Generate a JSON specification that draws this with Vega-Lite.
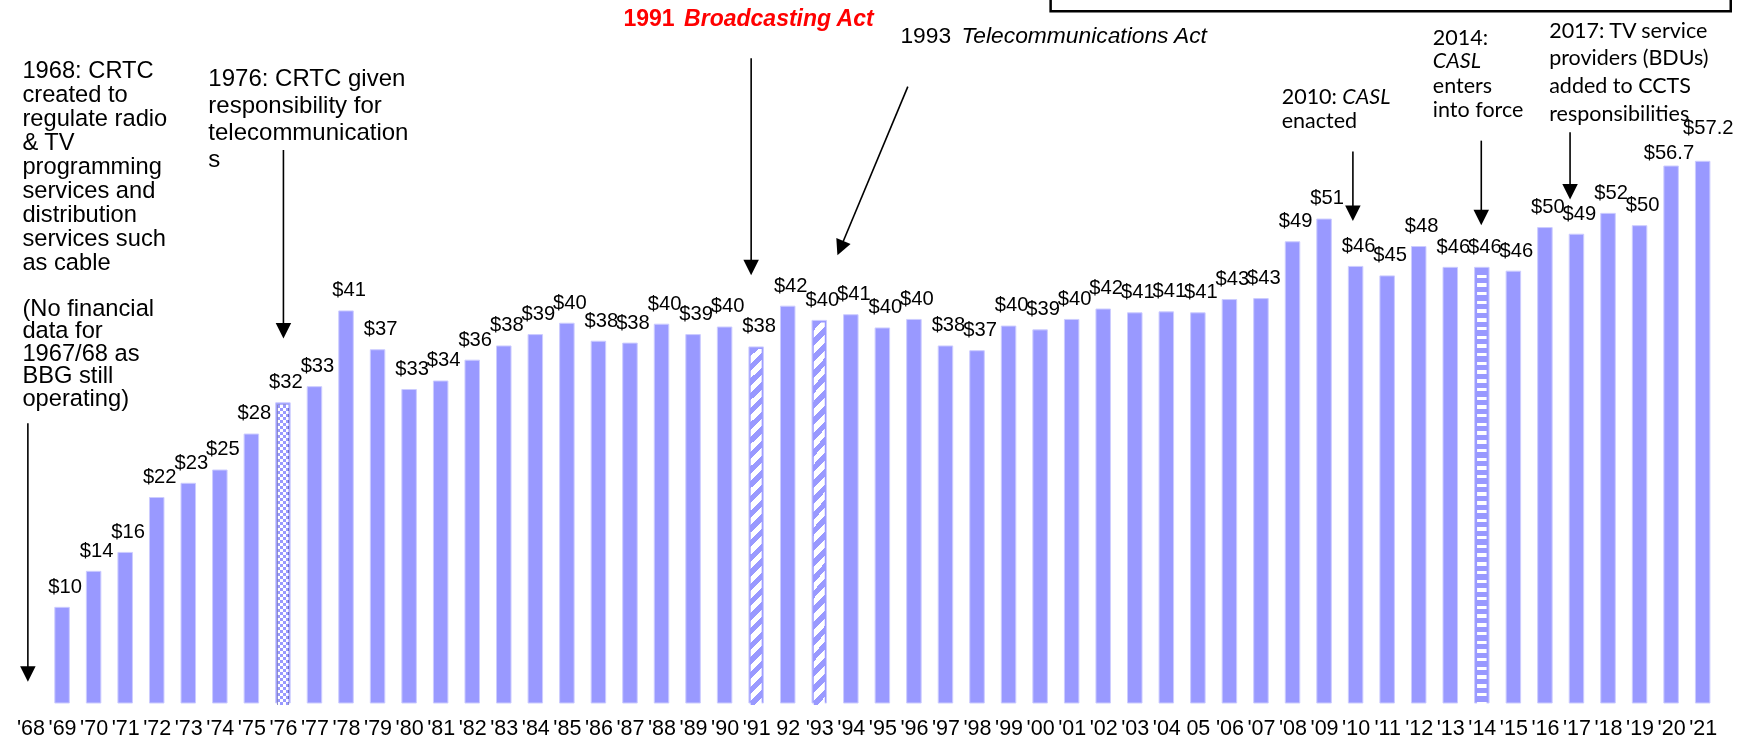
{
"$schema": "https://vega.github.io/schema/vega-lite/v6.json",
"width": 1756, "height": 703,
"autosize": {"type": "none"},
"padding": {"left": 0, "right": 0, "top": 0, "bottom": 37},
"background": "white",
"config": {"view": {"stroke": null}},
"datasets": {
"bars": [
{"x":1969,"y":10.1,"label":"$10","pat":"n"},
{"x":1970,"y":13.9,"label":"$14","pat":"n"},
{"x":1971,"y":15.9,"label":"$16","pat":"n"},
{"x":1972,"y":21.7,"label":"$22","pat":"n"},
{"x":1973,"y":23.2,"label":"$23","pat":"n"},
{"x":1974,"y":24.6,"label":"$25","pat":"n"},
{"x":1975,"y":28.4,"label":"$28","pat":"n"},
{"x":1976,"y":31.7,"label":"$32","pat":"chk"},
{"x":1977,"y":33.4,"label":"$33","pat":"n"},
{"x":1978,"y":41.4,"label":"$41","pat":"n"},
{"x":1979,"y":37.3,"label":"$37","pat":"n"},
{"x":1980,"y":33.1,"label":"$33","pat":"n"},
{"x":1981,"y":34.0,"label":"$34","pat":"n"},
{"x":1982,"y":36.2,"label":"$36","pat":"n"},
{"x":1983,"y":37.7,"label":"$38","pat":"n"},
{"x":1984,"y":38.9,"label":"$39","pat":"n"},
{"x":1985,"y":40.1,"label":"$40","pat":"n"},
{"x":1986,"y":38.2,"label":"$38","pat":"n"},
{"x":1987,"y":38.0,"label":"$38","pat":"n"},
{"x":1988,"y":40.0,"label":"$40","pat":"n"},
{"x":1989,"y":38.9,"label":"$39","pat":"n"},
{"x":1990,"y":39.7,"label":"$40","pat":"n"},
{"x":1991,"y":37.6,"label":"$38","pat":"dg"},
{"x":1992,"y":41.9,"label":"$42","pat":"n"},
{"x":1993,"y":40.4,"label":"$40","pat":"dg"},
{"x":1994,"y":41.0,"label":"$41","pat":"n"},
{"x":1995,"y":39.6,"label":"$40","pat":"n"},
{"x":1996,"y":40.5,"label":"$40","pat":"n"},
{"x":1997,"y":37.7,"label":"$38","pat":"n"},
{"x":1998,"y":37.2,"label":"$37","pat":"n"},
{"x":1999,"y":39.8,"label":"$40","pat":"n"},
{"x":2000,"y":39.4,"label":"$39","pat":"n"},
{"x":2001,"y":40.5,"label":"$40","pat":"n"},
{"x":2002,"y":41.6,"label":"$42","pat":"n"},
{"x":2003,"y":41.2,"label":"$41","pat":"n"},
{"x":2004,"y":41.3,"label":"$41","pat":"n"},
{"x":2005,"y":41.2,"label":"$41","pat":"n"},
{"x":2006,"y":42.6,"label":"$43","pat":"n"},
{"x":2007,"y":42.7,"label":"$43","pat":"n"},
{"x":2008,"y":48.7,"label":"$49","pat":"n"},
{"x":2009,"y":51.1,"label":"$51","pat":"n"},
{"x":2010,"y":46.1,"label":"$46","pat":"n"},
{"x":2011,"y":45.1,"label":"$45","pat":"n"},
{"x":2012,"y":48.2,"label":"$48","pat":"n"},
{"x":2013,"y":46.0,"label":"$46","pat":"n"},
{"x":2014,"y":46.0,"label":"$46","pat":"hs"},
{"x":2015,"y":45.6,"label":"$46","pat":"n"},
{"x":2016,"y":50.2,"label":"$50","pat":"n"},
{"x":2017,"y":49.5,"label":"$49","pat":"n"},
{"x":2018,"y":51.7,"label":"$52","pat":"n"},
{"x":2019,"y":50.4,"label":"$50","pat":"n"},
{"x":2020,"y":56.7,"label":"$56.7","pat":"n"},
{"x":2021,"y":57.2,"label":"$57.2","pat":"n"}
],
"notes": [
{"x":1967.743,"y":65.97,"kind":"n1","text":"1968: CRTC\ncreated to\nregulate radio\n& TV\nprogramming\nservices and\ndistribution\nservices such\nas cable"},
{"x":1967.743,"y":40.87,"kind":"n1b","text":"(No financial\ndata for\n1967/68 as\nBBG still\noperating)"},
{"x":1973.636,"y":65.15,"kind":"n2","text":"1976: CRTC given\nresponsibility for\ntelecommunication\ns"},
{"x":1986.794,"y":71.49,"kind":"red","text":"1991"},
{"x":1988.716,"y":71.49,"kind":"redi","text":"Broadcasting Act"},
{"x":1995.571,"y":69.66,"kind":"act","text":"1993"},
{"x":1997.509,"y":69.66,"kind":"acti","text":"Telecommunications  Act"},
{"x":2007.657,"y":63.22,"kind":"cal","text":"2010:"},
{"x":2009.58,"y":63.22,"kind":"cali","text":"CASL"},
{"x":2007.657,"y":60.69,"kind":"cal","text":"enacted"},
{"x":2012.448,"y":69.48,"kind":"cal","text":"2014:"},
{"x":2012.448,"y":67.02,"kind":"cali","text":"CASL"},
{"x":2012.448,"y":64.45,"kind":"cal","text":"enters\ninto force"},
{"x":2016.135,"y":70.25,"kind":"cal2","text":"2017: TV service\nproviders (BDUs)\nadded to CCTS\nresponsibilities"}
],
"arrows": [
{"x":1967.916,"y":3.06,"x2":1967.916,"y2":29.54,"kind":"v"},
{"x":1976.016,"y":39.31,"x2":1976.016,"y2":58.39,"kind":"v"},
{"x":1990.841,"y":45.99,"x2":1990.841,"y2":68.08,"kind":"v"},
{"x":1993.671,"y":48.04,"x2":1995.807,"y2":65.08,"kind":"d"},
{"x":2009.914,"y":51.71,"x2":2009.914,"y2":58.22,"kind":"v"},
{"x":2013.983,"y":51.27,"x2":2013.983,"y2":59.38,"kind":"v"},
{"x":2016.797,"y":53.99,"x2":2016.797,"y2":60.26,"kind":"v"}
],
"box": [{"x":2000.333,"x2":2021.89,"y":73.04,"y2":76.5}]
},
"encoding": {
"x": {"field": "x", "type": "quantitative",
 "scale": {"domain": [1967.191, 2022.532], "nice": false, "zero": false},
 "axis": {"title": null, "domain": false, "ticks": false, "tickSize": 0, "grid": false,
  "values": [1968,1969,1970,1971,1972,1973,1974,1975,1976,1977,1978,1979,1980,1981,1982,1983,1984,1985,1986,1987,1988,1989,1990,1991,1992,1993,1994,1995,1996,1997,1998,1999,2000,2001,2002,2003,2004,2005,2006,2007,2008,2009,2010,2011,2012,2013,2014,2015,2016,2017,2018,2019,2020,2021],
  "format": "d",
  "labelExpr": "datum.value == 1992 ? '92' : datum.value == 2005 ? '05' : \"'\" + substring(datum.label, 2)",
  "labelFont": "Liberation Sans", "labelFontSize": 21.5, "labelColor": "#000",
  "labelBaseline": "alphabetic", "labelPadding": 31, "labelOverlap": false, "labelFlush": false, "labelBound": false, "labelAngle": 0}},
"y": {"field": "y", "type": "quantitative",
 "scale": {"domain": [0, 74.23], "nice": false, "zero": true}, "axis": null}
},
"layer": [
{"data": {"name": "box"},
 "mark": {"type": "rect", "fillOpacity": 0, "stroke": "#000", "strokeWidth": 2.5},
 "encoding": {"x2": {"field": "x2"}, "y2": {"field": "y2"}}},
{"data": {"name": "bars"},
 "mark": {"type": "bar", "size": 14.5, "fill": "#9999ff", "stroke": "#ccccff", "strokeWidth": 1}},
{"data": {"name": "bars"}, "transform": [{"filter": "datum.pat == 'hs'"}],
 "mark": {"type": "bar", "size": 9.5, "yOffset": 2, "y2Offset": -2, "strokeWidth": 0,
  "fill": {"gradient": "linear", "x1": 0, "y1": 0, "x2": 0, "y2": 1, "stops": [
{"offset":0,"color":"#99f"},{"offset":0.012,"color":"#99f"},{"offset":0.012,"color":"#fff"},{"offset":0.02,"color":"#fff"},
{"offset":0.02,"color":"#99f"},{"offset":0.032,"color":"#99f"},{"offset":0.032,"color":"#fff"},{"offset":0.04,"color":"#fff"},
{"offset":0.04,"color":"#99f"},{"offset":0.052,"color":"#99f"},{"offset":0.052,"color":"#fff"},{"offset":0.06,"color":"#fff"},
{"offset":0.06,"color":"#99f"},{"offset":0.072,"color":"#99f"},{"offset":0.072,"color":"#fff"},{"offset":0.08,"color":"#fff"},
{"offset":0.08,"color":"#99f"},{"offset":0.092,"color":"#99f"},{"offset":0.092,"color":"#fff"},{"offset":0.1,"color":"#fff"},
{"offset":0.1,"color":"#99f"},{"offset":0.112,"color":"#99f"},{"offset":0.112,"color":"#fff"},{"offset":0.12,"color":"#fff"},
{"offset":0.12,"color":"#99f"},{"offset":0.132,"color":"#99f"},{"offset":0.132,"color":"#fff"},{"offset":0.14,"color":"#fff"},
{"offset":0.14,"color":"#99f"},{"offset":0.152,"color":"#99f"},{"offset":0.152,"color":"#fff"},{"offset":0.16,"color":"#fff"},
{"offset":0.16,"color":"#99f"},{"offset":0.172,"color":"#99f"},{"offset":0.172,"color":"#fff"},{"offset":0.18,"color":"#fff"},
{"offset":0.18,"color":"#99f"},{"offset":0.192,"color":"#99f"},{"offset":0.192,"color":"#fff"},{"offset":0.2,"color":"#fff"},
{"offset":0.2,"color":"#99f"},{"offset":0.212,"color":"#99f"},{"offset":0.212,"color":"#fff"},{"offset":0.22,"color":"#fff"},
{"offset":0.22,"color":"#99f"},{"offset":0.232,"color":"#99f"},{"offset":0.232,"color":"#fff"},{"offset":0.24,"color":"#fff"},
{"offset":0.24,"color":"#99f"},{"offset":0.252,"color":"#99f"},{"offset":0.252,"color":"#fff"},{"offset":0.26,"color":"#fff"},
{"offset":0.26,"color":"#99f"},{"offset":0.272,"color":"#99f"},{"offset":0.272,"color":"#fff"},{"offset":0.28,"color":"#fff"},
{"offset":0.28,"color":"#99f"},{"offset":0.292,"color":"#99f"},{"offset":0.292,"color":"#fff"},{"offset":0.3,"color":"#fff"},
{"offset":0.3,"color":"#99f"},{"offset":0.312,"color":"#99f"},{"offset":0.312,"color":"#fff"},{"offset":0.32,"color":"#fff"},
{"offset":0.32,"color":"#99f"},{"offset":0.332,"color":"#99f"},{"offset":0.332,"color":"#fff"},{"offset":0.34,"color":"#fff"},
{"offset":0.34,"color":"#99f"},{"offset":0.352,"color":"#99f"},{"offset":0.352,"color":"#fff"},{"offset":0.36,"color":"#fff"},
{"offset":0.36,"color":"#99f"},{"offset":0.372,"color":"#99f"},{"offset":0.372,"color":"#fff"},{"offset":0.38,"color":"#fff"},
{"offset":0.38,"color":"#99f"},{"offset":0.392,"color":"#99f"},{"offset":0.392,"color":"#fff"},{"offset":0.4,"color":"#fff"},
{"offset":0.4,"color":"#99f"},{"offset":0.412,"color":"#99f"},{"offset":0.412,"color":"#fff"},{"offset":0.42,"color":"#fff"},
{"offset":0.42,"color":"#99f"},{"offset":0.432,"color":"#99f"},{"offset":0.432,"color":"#fff"},{"offset":0.44,"color":"#fff"},
{"offset":0.44,"color":"#99f"},{"offset":0.452,"color":"#99f"},{"offset":0.452,"color":"#fff"},{"offset":0.46,"color":"#fff"},
{"offset":0.46,"color":"#99f"},{"offset":0.472,"color":"#99f"},{"offset":0.472,"color":"#fff"},{"offset":0.48,"color":"#fff"},
{"offset":0.48,"color":"#99f"},{"offset":0.492,"color":"#99f"},{"offset":0.492,"color":"#fff"},{"offset":0.5,"color":"#fff"},
{"offset":0.5,"color":"#99f"},{"offset":0.512,"color":"#99f"},{"offset":0.512,"color":"#fff"},{"offset":0.52,"color":"#fff"},
{"offset":0.52,"color":"#99f"},{"offset":0.532,"color":"#99f"},{"offset":0.532,"color":"#fff"},{"offset":0.54,"color":"#fff"},
{"offset":0.54,"color":"#99f"},{"offset":0.552,"color":"#99f"},{"offset":0.552,"color":"#fff"},{"offset":0.56,"color":"#fff"},
{"offset":0.56,"color":"#99f"},{"offset":0.572,"color":"#99f"},{"offset":0.572,"color":"#fff"},{"offset":0.58,"color":"#fff"},
{"offset":0.58,"color":"#99f"},{"offset":0.592,"color":"#99f"},{"offset":0.592,"color":"#fff"},{"offset":0.6,"color":"#fff"},
{"offset":0.6,"color":"#99f"},{"offset":0.612,"color":"#99f"},{"offset":0.612,"color":"#fff"},{"offset":0.62,"color":"#fff"},
{"offset":0.62,"color":"#99f"},{"offset":0.632,"color":"#99f"},{"offset":0.632,"color":"#fff"},{"offset":0.64,"color":"#fff"},
{"offset":0.64,"color":"#99f"},{"offset":0.652,"color":"#99f"},{"offset":0.652,"color":"#fff"},{"offset":0.66,"color":"#fff"},
{"offset":0.66,"color":"#99f"},{"offset":0.672,"color":"#99f"},{"offset":0.672,"color":"#fff"},{"offset":0.68,"color":"#fff"},
{"offset":0.68,"color":"#99f"},{"offset":0.692,"color":"#99f"},{"offset":0.692,"color":"#fff"},{"offset":0.7,"color":"#fff"},
{"offset":0.7,"color":"#99f"},{"offset":0.712,"color":"#99f"},{"offset":0.712,"color":"#fff"},{"offset":0.72,"color":"#fff"},
{"offset":0.72,"color":"#99f"},{"offset":0.732,"color":"#99f"},{"offset":0.732,"color":"#fff"},{"offset":0.74,"color":"#fff"},
{"offset":0.74,"color":"#99f"},{"offset":0.752,"color":"#99f"},{"offset":0.752,"color":"#fff"},{"offset":0.76,"color":"#fff"},
{"offset":0.76,"color":"#99f"},{"offset":0.772,"color":"#99f"},{"offset":0.772,"color":"#fff"},{"offset":0.78,"color":"#fff"},
{"offset":0.78,"color":"#99f"},{"offset":0.792,"color":"#99f"},{"offset":0.792,"color":"#fff"},{"offset":0.8,"color":"#fff"},
{"offset":0.8,"color":"#99f"},{"offset":0.812,"color":"#99f"},{"offset":0.812,"color":"#fff"},{"offset":0.82,"color":"#fff"},
{"offset":0.82,"color":"#99f"},{"offset":0.832,"color":"#99f"},{"offset":0.832,"color":"#fff"},{"offset":0.84,"color":"#fff"},
{"offset":0.84,"color":"#99f"},{"offset":0.852,"color":"#99f"},{"offset":0.852,"color":"#fff"},{"offset":0.86,"color":"#fff"},
{"offset":0.86,"color":"#99f"},{"offset":0.872,"color":"#99f"},{"offset":0.872,"color":"#fff"},{"offset":0.88,"color":"#fff"},
{"offset":0.88,"color":"#99f"},{"offset":0.892,"color":"#99f"},{"offset":0.892,"color":"#fff"},{"offset":0.9,"color":"#fff"},
{"offset":0.9,"color":"#99f"},{"offset":0.912,"color":"#99f"},{"offset":0.912,"color":"#fff"},{"offset":0.92,"color":"#fff"},
{"offset":0.92,"color":"#99f"},{"offset":0.932,"color":"#99f"},{"offset":0.932,"color":"#fff"},{"offset":0.94,"color":"#fff"},
{"offset":0.94,"color":"#99f"},{"offset":0.952,"color":"#99f"},{"offset":0.952,"color":"#fff"},{"offset":0.96,"color":"#fff"},
{"offset":0.96,"color":"#99f"},{"offset":0.972,"color":"#99f"},{"offset":0.972,"color":"#fff"},{"offset":0.98,"color":"#fff"},
{"offset":0.98,"color":"#99f"},{"offset":0.992,"color":"#99f"},{"offset":0.992,"color":"#fff"},{"offset":1,"color":"#fff"}
]}}},
{"data": {"name": "bars"}, "transform": [{"filter": "datum.pat == 'dg'"}],
 "mark": {"type": "bar", "size": 11, "yOffset": 2, "y2Offset": -2, "strokeWidth": 0,
  "fill": {"gradient": "linear", "x1": 0, "y1": 0, "x2": 0.031, "y2": 1.0292, "stops": [
{"offset":0,"color":"#99f"},
{"offset":0.02,"color":"#99f"},{"offset":0.02,"color":"#fff"},
{"offset":0.04,"color":"#fff"},{"offset":0.04,"color":"#99f"},
{"offset":0.06,"color":"#99f"},{"offset":0.06,"color":"#fff"},
{"offset":0.08,"color":"#fff"},{"offset":0.08,"color":"#99f"},
{"offset":0.1,"color":"#99f"},{"offset":0.1,"color":"#fff"},
{"offset":0.12,"color":"#fff"},{"offset":0.12,"color":"#99f"},
{"offset":0.14,"color":"#99f"},{"offset":0.14,"color":"#fff"},
{"offset":0.16,"color":"#fff"},{"offset":0.16,"color":"#99f"},
{"offset":0.18,"color":"#99f"},{"offset":0.18,"color":"#fff"},
{"offset":0.2,"color":"#fff"},{"offset":0.2,"color":"#99f"},
{"offset":0.22,"color":"#99f"},{"offset":0.22,"color":"#fff"},
{"offset":0.24,"color":"#fff"},{"offset":0.24,"color":"#99f"},
{"offset":0.26,"color":"#99f"},{"offset":0.26,"color":"#fff"},
{"offset":0.28,"color":"#fff"},{"offset":0.28,"color":"#99f"},
{"offset":0.3,"color":"#99f"},{"offset":0.3,"color":"#fff"},
{"offset":0.32,"color":"#fff"},{"offset":0.32,"color":"#99f"},
{"offset":0.34,"color":"#99f"},{"offset":0.34,"color":"#fff"},
{"offset":0.36,"color":"#fff"},{"offset":0.36,"color":"#99f"},
{"offset":0.38,"color":"#99f"},{"offset":0.38,"color":"#fff"},
{"offset":0.4,"color":"#fff"},{"offset":0.4,"color":"#99f"},
{"offset":0.42,"color":"#99f"},{"offset":0.42,"color":"#fff"},
{"offset":0.44,"color":"#fff"},{"offset":0.44,"color":"#99f"},
{"offset":0.46,"color":"#99f"},{"offset":0.46,"color":"#fff"},
{"offset":0.48,"color":"#fff"},{"offset":0.48,"color":"#99f"},
{"offset":0.5,"color":"#99f"},{"offset":0.5,"color":"#fff"},
{"offset":0.52,"color":"#fff"},{"offset":0.52,"color":"#99f"},
{"offset":0.54,"color":"#99f"},{"offset":0.54,"color":"#fff"},
{"offset":0.56,"color":"#fff"},{"offset":0.56,"color":"#99f"},
{"offset":0.58,"color":"#99f"},{"offset":0.58,"color":"#fff"},
{"offset":0.6,"color":"#fff"},{"offset":0.6,"color":"#99f"},
{"offset":0.62,"color":"#99f"},{"offset":0.62,"color":"#fff"},
{"offset":0.64,"color":"#fff"},{"offset":0.64,"color":"#99f"},
{"offset":0.66,"color":"#99f"},{"offset":0.66,"color":"#fff"},
{"offset":0.68,"color":"#fff"},{"offset":0.68,"color":"#99f"},
{"offset":0.7,"color":"#99f"},{"offset":0.7,"color":"#fff"},
{"offset":0.72,"color":"#fff"},{"offset":0.72,"color":"#99f"},
{"offset":0.74,"color":"#99f"},{"offset":0.74,"color":"#fff"},
{"offset":0.76,"color":"#fff"},{"offset":0.76,"color":"#99f"},
{"offset":0.78,"color":"#99f"},{"offset":0.78,"color":"#fff"},
{"offset":0.8,"color":"#fff"},{"offset":0.8,"color":"#99f"},
{"offset":0.82,"color":"#99f"},{"offset":0.82,"color":"#fff"},
{"offset":0.84,"color":"#fff"},{"offset":0.84,"color":"#99f"},
{"offset":0.86,"color":"#99f"},{"offset":0.86,"color":"#fff"},
{"offset":0.88,"color":"#fff"},{"offset":0.88,"color":"#99f"},
{"offset":0.9,"color":"#99f"},{"offset":0.9,"color":"#fff"},
{"offset":0.92,"color":"#fff"},{"offset":0.92,"color":"#99f"},
{"offset":0.94,"color":"#99f"},{"offset":0.94,"color":"#fff"},
{"offset":0.96,"color":"#fff"},{"offset":0.96,"color":"#99f"},
{"offset":0.98,"color":"#99f"},{"offset":0.98,"color":"#fff"},
{"offset":1,"color":"#fff"}
]}}},
{"data": {"name": "bars"}, "transform": [{"filter": "datum.pat == 'chk'"}],
 "mark": {"type": "bar", "size": 11, "yOffset": 2, "y2Offset": -2, "strokeWidth": 0,
  "fill": {"gradient": "linear", "x1": 0, "y1": 0, "x2": 0, "y2": 1, "stops": [
{"offset":0,"color":"#fff"},{"offset":0.01,"color":"#fff"},{"offset":0.01,"color":"#000"},{"offset":0.02,"color":"#000"},
{"offset":0.02,"color":"#fff"},{"offset":0.03,"color":"#fff"},{"offset":0.03,"color":"#000"},{"offset":0.04,"color":"#000"},
{"offset":0.04,"color":"#fff"},{"offset":0.05,"color":"#fff"},{"offset":0.05,"color":"#000"},{"offset":0.06,"color":"#000"},
{"offset":0.06,"color":"#fff"},{"offset":0.07,"color":"#fff"},{"offset":0.07,"color":"#000"},{"offset":0.08,"color":"#000"},
{"offset":0.08,"color":"#fff"},{"offset":0.09,"color":"#fff"},{"offset":0.09,"color":"#000"},{"offset":0.1,"color":"#000"},
{"offset":0.1,"color":"#fff"},{"offset":0.11,"color":"#fff"},{"offset":0.11,"color":"#000"},{"offset":0.12,"color":"#000"},
{"offset":0.12,"color":"#fff"},{"offset":0.13,"color":"#fff"},{"offset":0.13,"color":"#000"},{"offset":0.14,"color":"#000"},
{"offset":0.14,"color":"#fff"},{"offset":0.15,"color":"#fff"},{"offset":0.15,"color":"#000"},{"offset":0.16,"color":"#000"},
{"offset":0.16,"color":"#fff"},{"offset":0.17,"color":"#fff"},{"offset":0.17,"color":"#000"},{"offset":0.18,"color":"#000"},
{"offset":0.18,"color":"#fff"},{"offset":0.19,"color":"#fff"},{"offset":0.19,"color":"#000"},{"offset":0.2,"color":"#000"},
{"offset":0.2,"color":"#fff"},{"offset":0.21,"color":"#fff"},{"offset":0.21,"color":"#000"},{"offset":0.22,"color":"#000"},
{"offset":0.22,"color":"#fff"},{"offset":0.23,"color":"#fff"},{"offset":0.23,"color":"#000"},{"offset":0.24,"color":"#000"},
{"offset":0.24,"color":"#fff"},{"offset":0.25,"color":"#fff"},{"offset":0.25,"color":"#000"},{"offset":0.26,"color":"#000"},
{"offset":0.26,"color":"#fff"},{"offset":0.27,"color":"#fff"},{"offset":0.27,"color":"#000"},{"offset":0.28,"color":"#000"},
{"offset":0.28,"color":"#fff"},{"offset":0.29,"color":"#fff"},{"offset":0.29,"color":"#000"},{"offset":0.3,"color":"#000"},
{"offset":0.3,"color":"#fff"},{"offset":0.31,"color":"#fff"},{"offset":0.31,"color":"#000"},{"offset":0.32,"color":"#000"},
{"offset":0.32,"color":"#fff"},{"offset":0.33,"color":"#fff"},{"offset":0.33,"color":"#000"},{"offset":0.34,"color":"#000"},
{"offset":0.34,"color":"#fff"},{"offset":0.35,"color":"#fff"},{"offset":0.35,"color":"#000"},{"offset":0.36,"color":"#000"},
{"offset":0.36,"color":"#fff"},{"offset":0.37,"color":"#fff"},{"offset":0.37,"color":"#000"},{"offset":0.38,"color":"#000"},
{"offset":0.38,"color":"#fff"},{"offset":0.39,"color":"#fff"},{"offset":0.39,"color":"#000"},{"offset":0.4,"color":"#000"},
{"offset":0.4,"color":"#fff"},{"offset":0.41,"color":"#fff"},{"offset":0.41,"color":"#000"},{"offset":0.42,"color":"#000"},
{"offset":0.42,"color":"#fff"},{"offset":0.43,"color":"#fff"},{"offset":0.43,"color":"#000"},{"offset":0.44,"color":"#000"},
{"offset":0.44,"color":"#fff"},{"offset":0.45,"color":"#fff"},{"offset":0.45,"color":"#000"},{"offset":0.46,"color":"#000"},
{"offset":0.46,"color":"#fff"},{"offset":0.47,"color":"#fff"},{"offset":0.47,"color":"#000"},{"offset":0.48,"color":"#000"},
{"offset":0.48,"color":"#fff"},{"offset":0.49,"color":"#fff"},{"offset":0.49,"color":"#000"},{"offset":0.5,"color":"#000"},
{"offset":0.5,"color":"#fff"},{"offset":0.51,"color":"#fff"},{"offset":0.51,"color":"#000"},{"offset":0.52,"color":"#000"},
{"offset":0.52,"color":"#fff"},{"offset":0.53,"color":"#fff"},{"offset":0.53,"color":"#000"},{"offset":0.54,"color":"#000"},
{"offset":0.54,"color":"#fff"},{"offset":0.55,"color":"#fff"},{"offset":0.55,"color":"#000"},{"offset":0.56,"color":"#000"},
{"offset":0.56,"color":"#fff"},{"offset":0.57,"color":"#fff"},{"offset":0.57,"color":"#000"},{"offset":0.58,"color":"#000"},
{"offset":0.58,"color":"#fff"},{"offset":0.59,"color":"#fff"},{"offset":0.59,"color":"#000"},{"offset":0.6,"color":"#000"},
{"offset":0.6,"color":"#fff"},{"offset":0.61,"color":"#fff"},{"offset":0.61,"color":"#000"},{"offset":0.62,"color":"#000"},
{"offset":0.62,"color":"#fff"},{"offset":0.63,"color":"#fff"},{"offset":0.63,"color":"#000"},{"offset":0.64,"color":"#000"},
{"offset":0.64,"color":"#fff"},{"offset":0.65,"color":"#fff"},{"offset":0.65,"color":"#000"},{"offset":0.66,"color":"#000"},
{"offset":0.66,"color":"#fff"},{"offset":0.67,"color":"#fff"},{"offset":0.67,"color":"#000"},{"offset":0.68,"color":"#000"},
{"offset":0.68,"color":"#fff"},{"offset":0.69,"color":"#fff"},{"offset":0.69,"color":"#000"},{"offset":0.7,"color":"#000"},
{"offset":0.7,"color":"#fff"},{"offset":0.71,"color":"#fff"},{"offset":0.71,"color":"#000"},{"offset":0.72,"color":"#000"},
{"offset":0.72,"color":"#fff"},{"offset":0.73,"color":"#fff"},{"offset":0.73,"color":"#000"},{"offset":0.74,"color":"#000"},
{"offset":0.74,"color":"#fff"},{"offset":0.75,"color":"#fff"},{"offset":0.75,"color":"#000"},{"offset":0.76,"color":"#000"},
{"offset":0.76,"color":"#fff"},{"offset":0.77,"color":"#fff"},{"offset":0.77,"color":"#000"},{"offset":0.78,"color":"#000"},
{"offset":0.78,"color":"#fff"},{"offset":0.79,"color":"#fff"},{"offset":0.79,"color":"#000"},{"offset":0.8,"color":"#000"},
{"offset":0.8,"color":"#fff"},{"offset":0.81,"color":"#fff"},{"offset":0.81,"color":"#000"},{"offset":0.82,"color":"#000"},
{"offset":0.82,"color":"#fff"},{"offset":0.83,"color":"#fff"},{"offset":0.83,"color":"#000"},{"offset":0.84,"color":"#000"},
{"offset":0.84,"color":"#fff"},{"offset":0.85,"color":"#fff"},{"offset":0.85,"color":"#000"},{"offset":0.86,"color":"#000"},
{"offset":0.86,"color":"#fff"},{"offset":0.87,"color":"#fff"},{"offset":0.87,"color":"#000"},{"offset":0.88,"color":"#000"},
{"offset":0.88,"color":"#fff"},{"offset":0.89,"color":"#fff"},{"offset":0.89,"color":"#000"},{"offset":0.9,"color":"#000"},
{"offset":0.9,"color":"#fff"},{"offset":0.91,"color":"#fff"},{"offset":0.91,"color":"#000"},{"offset":0.92,"color":"#000"},
{"offset":0.92,"color":"#fff"},{"offset":0.93,"color":"#fff"},{"offset":0.93,"color":"#000"},{"offset":0.94,"color":"#000"},
{"offset":0.94,"color":"#fff"},{"offset":0.95,"color":"#fff"},{"offset":0.95,"color":"#000"},{"offset":0.96,"color":"#000"},
{"offset":0.96,"color":"#fff"},{"offset":0.97,"color":"#fff"},{"offset":0.97,"color":"#000"},{"offset":0.98,"color":"#000"},
{"offset":0.98,"color":"#fff"},{"offset":0.99,"color":"#fff"},{"offset":0.99,"color":"#000"},{"offset":1,"color":"#000"}
]}}},
{"data": {"name": "bars"}, "transform": [{"filter": "datum.pat == 'chk'"}],
 "mark": {"type": "bar", "size": 11, "yOffset": 2, "y2Offset": -2, "strokeWidth": 0, "blend": "difference",
  "fill": {"gradient": "linear", "x1": 0, "y1": 0, "x2": 1, "y2": 0, "stops": [
{"offset":0,"color":"#fff"},{"offset":0.25,"color":"#fff"},{"offset":0.25,"color":"#000"},{"offset":0.5,"color":"#000"},
{"offset":0.5,"color":"#fff"},{"offset":0.75,"color":"#fff"},{"offset":0.75,"color":"#000"},{"offset":1,"color":"#000"}
]}}},
{"data": {"name": "bars"}, "transform": [{"filter": "datum.pat == 'chk'"}],
 "mark": {"type": "bar", "size": 11, "yOffset": 2, "y2Offset": -2, "strokeWidth": 0, "blend": "lighten", "fill": "#9999ff"}},
{"data": {"name": "bars"}, "transform": [{"filter": "datum.x < 2020"}],
 "mark": {"type": "text", "font": "Liberation Sans", "fontSize": 20.2, "dx": 3, "dy": -14.6, "align": "center", "baseline": "alphabetic", "color": "#000"},
 "encoding": {"text": {"field": "label"}}},
{"data": {"name": "bars"}, "transform": [{"filter": "datum.x == 2020"}],
 "mark": {"type": "text", "font": "Liberation Sans", "fontSize": 20.2, "dx": -2.2, "dy": -7.3, "align": "center", "baseline": "alphabetic", "color": "#000"},
 "encoding": {"text": {"field": "label"}}},
{"data": {"name": "bars"}, "transform": [{"filter": "datum.x == 2021"}],
 "mark": {"type": "text", "font": "Liberation Sans", "fontSize": 20.2, "dx": 5.6, "dy": -27.3, "align": "center", "baseline": "alphabetic", "color": "#000"},
 "encoding": {"text": {"field": "label"}}},
{"data": {"name": "arrows"},
 "mark": {"type": "rule", "color": "#000", "strokeWidth": 1.6},
 "encoding": {"x2": {"field": "x2"}, "y2": {"field": "y2"}}},
{"data": {"name": "arrows"}, "transform": [{"filter": "datum.kind == 'v'"}],
 "mark": {"type": "point", "shape": "M-1,-1L1,-1L0,1Z", "size": 240, "filled": true, "color": "#000", "opacity": 1, "strokeWidth": 0}},
{"data": {"name": "arrows"}, "transform": [{"filter": "datum.kind == 'd'"}],
 "mark": {"type": "point", "shape": "M-1,-1L1,-1L0,1Z", "size": 240, "angle": 22.8, "filled": true, "color": "#000", "opacity": 1, "strokeWidth": 0}},
{"data": {"name": "notes"}, "transform": [{"filter": "datum.kind == 'n1'"}],
 "mark": {"type": "text", "align": "left", "baseline": "alphabetic", "font": "Liberation Sans", "fontSize": 23.7, "lineHeight": 24, "lineBreak": "\n", "color": "#000"},
 "encoding": {"text": {"field": "text"}}},
{"data": {"name": "notes"}, "transform": [{"filter": "datum.kind == 'n1b'"}],
 "mark": {"type": "text", "align": "left", "baseline": "alphabetic", "font": "Liberation Sans", "fontSize": 23.7, "lineHeight": 22.5, "lineBreak": "\n", "color": "#000"},
 "encoding": {"text": {"field": "text"}}},
{"data": {"name": "notes"}, "transform": [{"filter": "datum.kind == 'n2'"}],
 "mark": {"type": "text", "align": "left", "baseline": "alphabetic", "font": "Liberation Sans", "fontSize": 24, "lineHeight": 27, "lineBreak": "\n", "color": "#000"},
 "encoding": {"text": {"field": "text"}}},
{"data": {"name": "notes"}, "transform": [{"filter": "datum.kind == 'red'"}],
 "mark": {"type": "text", "align": "left", "baseline": "alphabetic", "font": "Liberation Sans", "fontSize": 23, "fontWeight": "bold", "color": "#ff0000"},
 "encoding": {"text": {"field": "text"}}},
{"data": {"name": "notes"}, "transform": [{"filter": "datum.kind == 'redi'"}],
 "mark": {"type": "text", "align": "left", "baseline": "alphabetic", "font": "Liberation Sans", "fontSize": 23, "fontWeight": "bold", "fontStyle": "italic", "color": "#ff0000"},
 "encoding": {"text": {"field": "text"}}},
{"data": {"name": "notes"}, "transform": [{"filter": "datum.kind == 'act'"}],
 "mark": {"type": "text", "align": "left", "baseline": "alphabetic", "font": "Liberation Sans", "fontSize": 22.8, "color": "#000"},
 "encoding": {"text": {"field": "text"}}},
{"data": {"name": "notes"}, "transform": [{"filter": "datum.kind == 'acti'"}],
 "mark": {"type": "text", "align": "left", "baseline": "alphabetic", "font": "Liberation Sans", "fontSize": 22.8, "fontStyle": "italic", "color": "#000"},
 "encoding": {"text": {"field": "text"}}},
{"data": {"name": "notes"}, "transform": [{"filter": "datum.kind == 'cal'"}],
 "mark": {"type": "text", "align": "left", "baseline": "alphabetic", "font": "Lato", "fontSize": 21.5, "lineHeight": 24, "lineBreak": "\n", "color": "#000"},
 "encoding": {"text": {"field": "text"}}},
{"data": {"name": "notes"}, "transform": [{"filter": "datum.kind == 'cali'"}],
 "mark": {"type": "text", "align": "left", "baseline": "alphabetic", "font": "Lato", "fontSize": 21.5, "fontStyle": "italic", "color": "#000"},
 "encoding": {"text": {"field": "text"}}},
{"data": {"name": "notes"}, "transform": [{"filter": "datum.kind == 'cal2'"}],
 "mark": {"type": "text", "align": "left", "baseline": "alphabetic", "font": "Lato", "fontSize": 21.5, "lineHeight": 27.8, "lineBreak": "\n", "color": "#000"},
 "encoding": {"text": {"field": "text"}}}
]
}
